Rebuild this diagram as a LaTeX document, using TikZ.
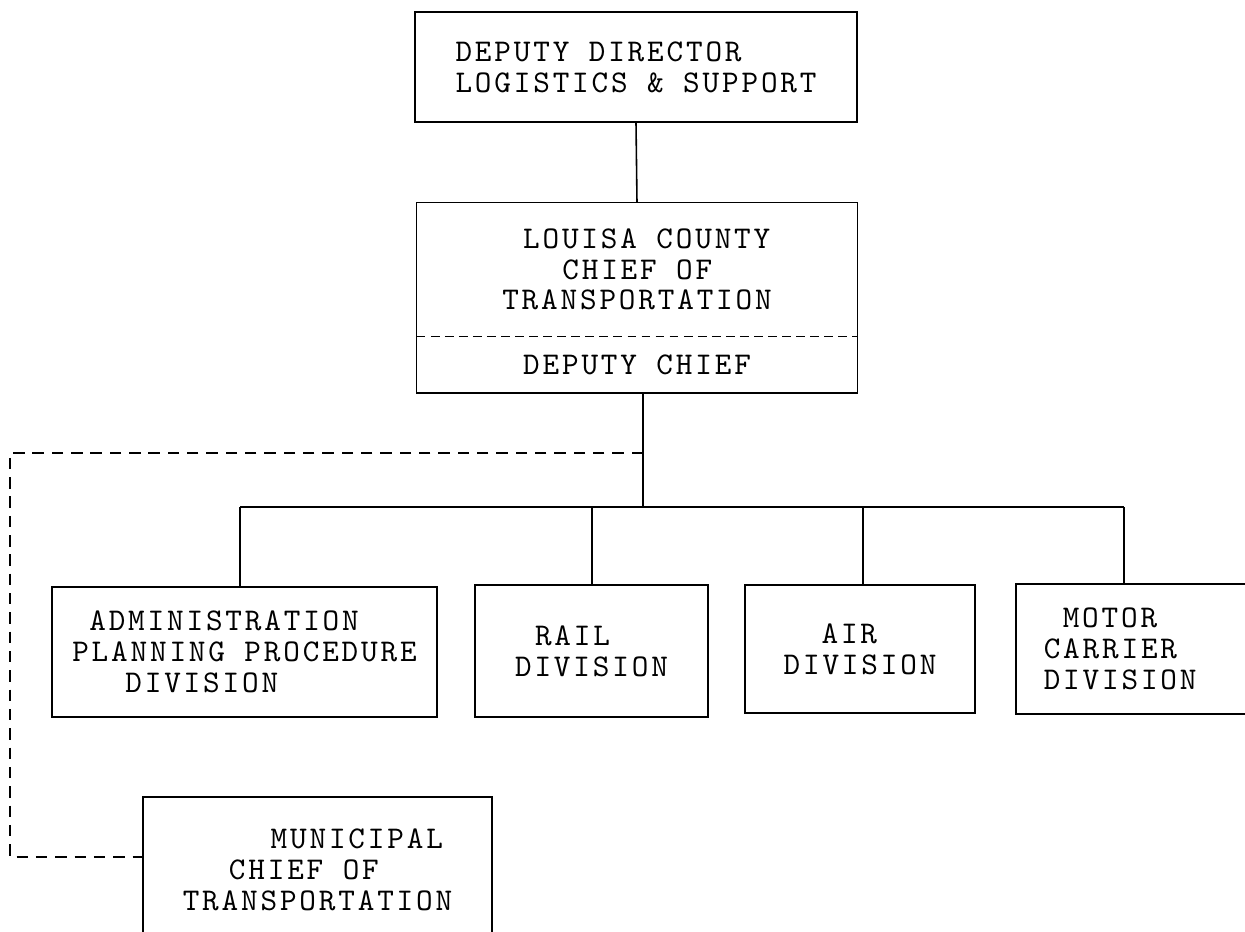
\documentclass[tikz,border=0pt]{standalone}
\usepackage{fontspec}
\setmonofont[LetterSpace=9]{lmmono10-regular.otf}
\usepackage{tikz}
\usetikzlibrary{positioning}

\begin{document}
\begin{tikzpicture}[x=0.02cm, y=-0.02cm,
				kasten/.style={draw, line width=0.9pt, align=left, inner sep=0pt},
				strich/.style={line width=0.9pt},
				strichel/.style={line width=0.8pt, dash pattern=on 6.5pt off 4.5pt},
				font=\ttfamily\fontsize{18}{17.5}\selectfont]
				%Bildbereich
				\useasboundingbox[fill=white] (0,0) rectangle (1245,931);
				% Leitung oben
				\node[kasten, minimum width=8.84cm, minimum height=2.2cm] (dirlog) at (636,67)
					{DEPUTY DIRECTOR\\LOGISTICS \& SUPPORT};
				% Chef und Stellvertreter
				\node[inner sep=0pt, align=left, minimum width=8.8cm, minimum height=2.66cm] (chief) at (637,269.5)
					{\hspace*{0.66em}LOUISA COUNTY\\\hspace*{1.9em}CHIEF OF\\TRANSPORTATION};
				\node[inner sep=0pt, minimum width=8.8cm, minimum height=1.12cm, below=0pt of chief] (deputy)
					{DEPUTY CHIEF};
				\draw[strich] (chief.north west) rectangle (deputy.south east);
				\draw[line width=0.7pt, dash pattern=on 5pt off 3pt] (chief.south west) -- (chief.south east);
				% Abteilungen
				\node[kasten, minimum width=7.7cm, minimum height=2.6cm] (admin) at (244.5,652)
					{\hspace*{0.54em}ADMINISTRATION\\PLANNING PROCEDURE\\\hspace*{1.68em}DIVISION};
				\node[kasten, minimum width=4.66cm, minimum height=2.64cm] (rail) at (591.5,651)
					{\hspace*{0.63em}RAIL\\DIVISION};
				\node[kasten, minimum width=4.6cm, minimum height=2.56cm] (air) at (860,649)
					{\hspace*{1.2em}AIR\\DIVISION};
				\node[kasten, anchor=north west, text width=3.78cm, inner xsep=0.56cm, minimum height=2.6cm] (motor) at (1015,583)
					{\hspace*{0.6em}MOTOR\\CARRIER\\DIVISION};
				\node[kasten, minimum width=6.98cm, minimum height=2.92cm] (municipal) at (317.5,870)
					{\hspace*{2.78em}MUNICIPAL\\\hspace*{1.46em}CHIEF OF\\TRANSPORTATION};
				% Verbindungen
				\coordinate (split) at (643,453);
				\coordinate (bus) at (643,507);
				\coordinate (knick) at (10,453);
				\draw[strich] (dirlog.south) -- (chief.north);
				\draw[strich] (deputy.south -| bus) -- (bus);
				\draw[strich] (240,507) -- (1124,507);
				\foreach \n/\x in {admin/240, rail/592, air/863, motor/1124}
					\draw[strich] (\x,507) -- (\x,0 |- \n.north);
				\draw[strichel] (split) -- (knick) |- (municipal.west |- 0,857);
			\end{tikzpicture}
\end{document}
